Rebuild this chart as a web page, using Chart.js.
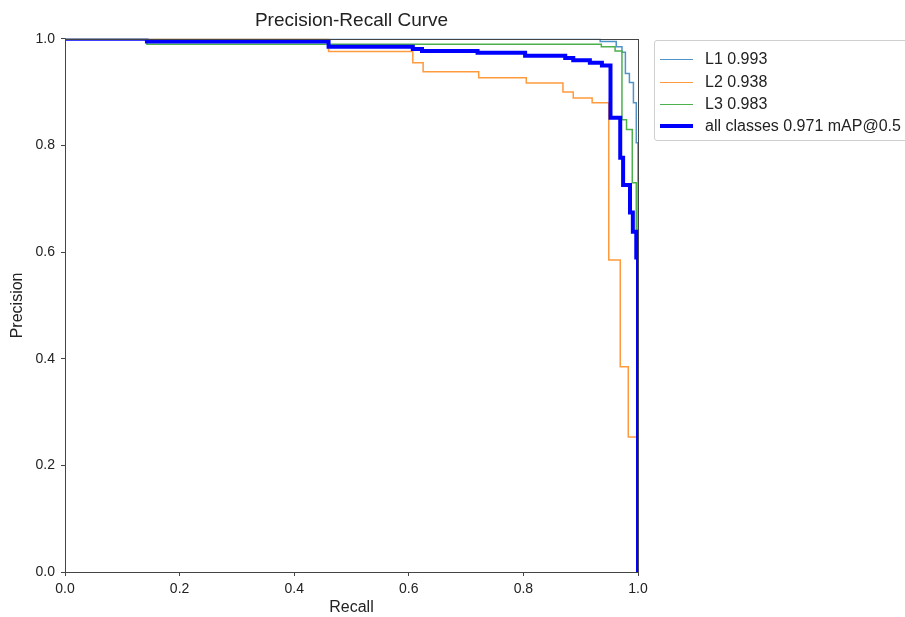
<!DOCTYPE html>
<html>
<head>
<meta charset="utf-8">
<script src="https://cdn.jsdelivr.net/npm/chart.js@4.4.1/dist/chart.umd.min.js"></script>
<style>
  html,body{margin:0;padding:0;background:#fff;overflow:hidden;}
  #wrap{position:relative;width:905px;height:617px;}
  #legend{position:absolute;left:654px;top:40px;width:270px;height:101px;border:1px solid #cfcfcf;border-radius:3px;background:#fff;
    font-family:"Liberation Sans",Arial,sans-serif;font-size:16px;color:#222;box-sizing:border-box;}
  .row{position:absolute;left:0;height:20px;display:flex;align-items:center;white-space:nowrap;}
  .swatch{display:inline-block;width:33px;margin-left:5px;margin-right:12px;}
</style>
</head>
<body>
<div id="wrap">
  <canvas id="c" width="905" height="617"></canvas>
  <div id="legend"></div>
</div>
<script>
// ---- data ----
const seriesLabels = ["L1 0.993", "L2 0.938", "L3 0.983", "all classes 0.971 mAP@0.5"];
const xTicks = [0.0, 0.2, 0.4, 0.6, 0.8, 1.0];
const yTicks = [0.0, 0.2, 0.4, 0.6, 0.8, 1.0];

const l1Recall    = [0, 0.934, 0.962, 0.972, 0.978, 0.985, 0.992, 0.997, 1.0];
const l1Precision = [1.0, 0.995, 0.985, 0.975, 0.935, 0.918, 0.88, 0.805, 0.0];

const l2Recall    = [0, 0.46, 0.607, 0.625, 0.722, 0.805, 0.869, 0.887, 0.92, 0.949, 0.969, 0.983, 1.0];
const l2Precision = [1.0, 0.976, 0.955, 0.938, 0.927, 0.917, 0.90, 0.889, 0.88, 0.585, 0.385, 0.253, 0.0];

const l3Recall    = [0, 0.143, 0.936, 0.96, 0.972, 0.98, 0.99, 0.997, 1.0];
const l3Precision = [1.0, 0.99, 0.985, 0.977, 0.848, 0.83, 0.73, 0.64, 0.0];

const allRecall    = [0, 0.143, 0.46, 0.607, 0.623, 0.72, 0.803, 0.873, 0.887, 0.916, 0.937, 0.952, 0.969, 0.974, 0.986, 0.991, 0.997, 1.0];
const allPrecision = [1.0, 0.995, 0.985, 0.981, 0.977, 0.974, 0.968, 0.964, 0.96, 0.955, 0.95, 0.852, 0.777, 0.726, 0.674, 0.638, 0.59, 0.0];

const colors = ["#4f93c9", "#ff9a3d", "#4cb04c", "#0000ff"];
const widths = [1.5, 1.5, 1.5, 4];

function pts(xs, ys){ return xs.map((x,i)=>({x:x, y:ys[i]})); }
const seriesData = [pts(l1Recall,l1Precision), pts(l2Recall,l2Precision), pts(l3Recall,l3Precision), pts(allRecall,allPrecision)];

const FONT = "'Liberation Sans', Arial, sans-serif";

const framePlugin = {
  id: 'frame',
  afterDraw(chart){
    const a = chart.chartArea, ctx = chart.ctx;
    ctx.save();
    ctx.strokeStyle = '#444';
    ctx.lineWidth = 1;
    ctx.strokeRect(Math.round(a.left)+0.5, Math.round(a.top)+0.5, Math.round(a.right-a.left), Math.round(a.bottom-a.top));
    ctx.restore();
  }
};

new Chart(document.getElementById('c'), {
  type: 'line',
  data: {
    datasets: seriesData.map((d,i)=>({
      label: seriesLabels[i],
      data: d,
      borderColor: colors[i],
      backgroundColor: colors[i],
      borderWidth: widths[i],
      pointRadius: 0,
      stepped: 'before',
      fill: false,
      tension: 0,
      order: 3 - i
    }))
  },
  options: {
    responsive: false,
    animation: false,
    layout: { padding: { left: 0, right: 267, top: 0, bottom: 0 } },
    plugins: {
      legend: { display: false },
      tooltip: { enabled: false },
      title: {
        display: true,
        text: 'Precision-Recall Curve',
        fullSize: false,
        color: '#222',
        font: { family: FONT, size: 19, weight: 'normal' },
        padding: { top: 9, bottom: 7 }
      }
    },
    scales: {
      x: {
        type: 'linear', min: 0, max: 1,
        afterFit(s){ s.height = 45; },
        afterBuildTicks(s){ s.ticks = xTicks.map(v=>({value:v})); },
        ticks: { color: '#222', font: { family: FONT, size: 14 }, padding: 5, maxRotation: 0,
                 callback: v => Number(v).toFixed(1) },
        grid: { display: true, drawOnChartArea: false, drawTicks: true, tickLength: 4, color: '#444' },
        border: { display: true, color: '#444', width: 1 },
        title: { display: true, text: 'Recall', color: '#222', font: { family: FONT, size: 16 }, padding: { top: 0, bottom: 0 } }
      },
      y: {
        type: 'linear', min: 0, max: 1,
        afterFit(s){ s.width = 65; },
        afterBuildTicks(s){ s.ticks = yTicks.map(v=>({value:v})); },
        ticks: { color: '#222', font: { family: FONT, size: 14 }, padding: 6,
                 callback: v => Number(v).toFixed(1) },
        grid: { display: true, drawOnChartArea: false, drawTicks: true, tickLength: 4, color: '#444' },
        border: { display: true, color: '#444', width: 1 },
        title: { display: true, text: 'Precision', color: '#222', font: { family: FONT, size: 16 }, padding: { top: 8, bottom: 0 } }
      }
    }
  },
  plugins: [framePlugin]
});

// HTML legend built from the same series
const lg = document.getElementById('legend');
const rowTops = [8, 31, 53, 75];
seriesLabels.forEach((lab,i)=>{
  const r = document.createElement('div');
  r.className = 'row';
  r.style.top = rowTops[i] + 'px';
  const sw = document.createElement('span');
  sw.className = 'swatch';
  sw.style.borderTop = widths[i] + 'px solid ' + colors[i];
  r.appendChild(sw);
  const t = document.createElement('span');
  t.textContent = lab;
  r.appendChild(t);
  lg.appendChild(r);
});
</script>
</body>
</html>
